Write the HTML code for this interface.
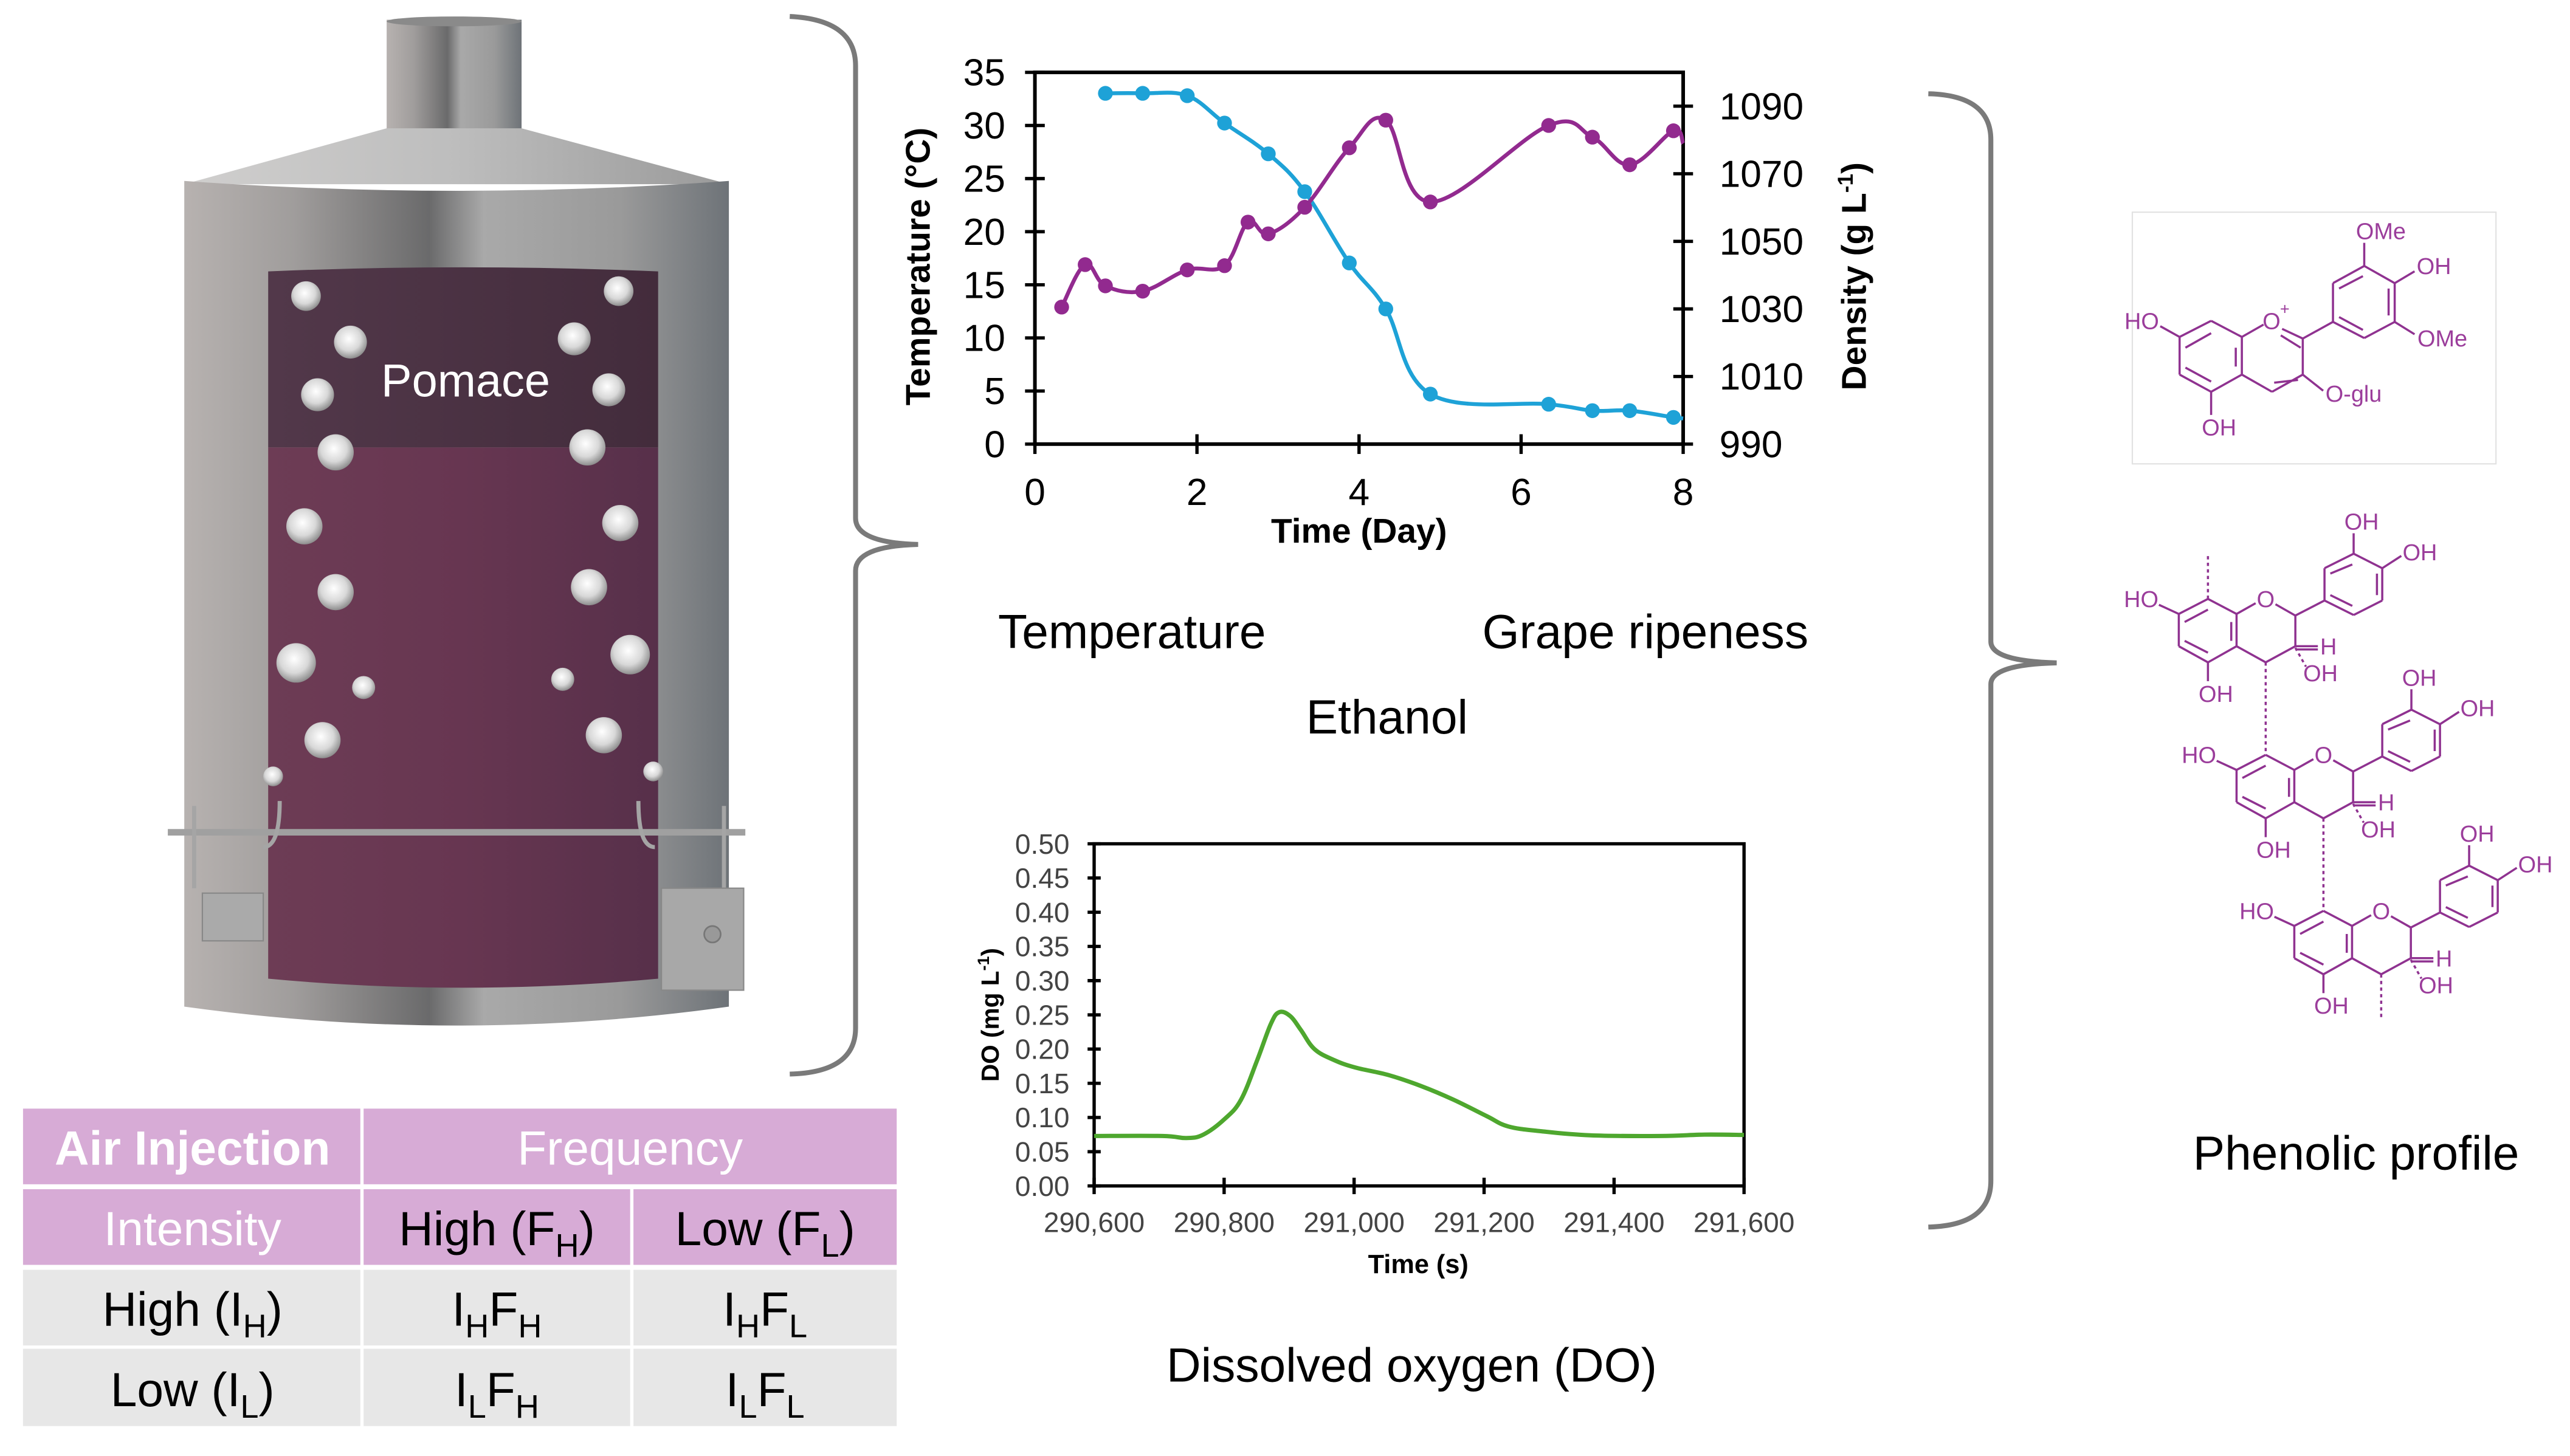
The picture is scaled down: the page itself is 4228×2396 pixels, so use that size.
<!DOCTYPE html>
<html><head><meta charset="utf-8">
<style>
html,body{margin:0;padding:0;background:#fff;width:4228px;height:2396px;overflow:hidden}
svg{display:block}
text{font-family:"Liberation Sans",sans-serif}
.nar{font-family:"Liberation Sans Narrow","Liberation Sans",sans-serif}
</style></head>
<body>
<svg id="root" xmlns="http://www.w3.org/2000/svg" width="4228" height="2396" viewBox="0 0 1562 885.2" preserveAspectRatio="none">
<defs>
<linearGradient id="metal" x1="0" x2="1" y1="0" y2="0">
<stop offset="0" stop-color="#b7b2b0"/><stop offset="0.2" stop-color="#a09d9c"/><stop offset="0.45" stop-color="#6a6a6b"/><stop offset="0.55" stop-color="#a9a9a9"/><stop offset="0.8" stop-color="#9a9a9a"/><stop offset="1" stop-color="#6e7378"/>
</linearGradient>
<linearGradient id="cone" x1="0" x2="1" y1="0" y2="0">
<stop offset="0" stop-color="#d0cfce"/><stop offset="0.5" stop-color="#bdbdbd"/><stop offset="1" stop-color="#9a9a9a"/>
</linearGradient>
<radialGradient id="bub" cx="0.45" cy="0.4" r="0.6">
<stop offset="0" stop-color="#ffffff"/><stop offset="0.6" stop-color="#d8d8d8"/><stop offset="1" stop-color="#8e8e8e"/>
</radialGradient>
<linearGradient id="winLow" x1="0" x2="1"><stop offset="0" stop-color="#6d3c55"/><stop offset="0.5" stop-color="#673651"/><stop offset="1" stop-color="#57304a"/></linearGradient>
<linearGradient id="winTop" x1="0" x2="1"><stop offset="0" stop-color="#52384a"/><stop offset="1" stop-color="#432c3c"/></linearGradient>
</defs>

<!-- Tank -->
<g>
<rect x="235" y="12" width="82" height="70" fill="url(#metal)"/>
<ellipse cx="276" cy="13" rx="41" ry="3" fill="#8a8a8a"/>
<polygon points="112,112 235,78 317,78 443,112" fill="url(#cone)"/>
<path d="M112,110 Q278,122 443,110 L443,612 Q278,635 112,612 Z" fill="url(#metal)"/>
<path d="M163,165 Q281,160 400,165 L400,272 L163,272 Z" fill="url(#winTop)"/>
<path d="M163,272 L400,272 L400,595 Q281,606 163,595 Z" fill="url(#winLow)"/>
<text x="283" y="241" font-size="28" fill="#fff" text-anchor="middle">Pomace</text>
<g id="bubbles"></g>
<line x1="102" y1="506" x2="453" y2="506" stroke="#a0a0a0" stroke-width="4"/>
<path d="M118,490 L118,540 M170,487 Q170,515 160,515 M388,487 Q388,515 398,515 M440,490 L440,540" stroke="#a5a5a5" stroke-width="2.5" fill="none"/>
<rect x="123" y="543" width="37" height="29" fill="#aaa" stroke="#888" stroke-width="0.8"/>
<rect x="402" y="540" width="50" height="62" fill="#a8a8a8" stroke="#888" stroke-width="0.8"/>
<circle cx="433" cy="568" r="5" fill="#999" stroke="#777"/>
</g>

<!-- Braces -->
<path d="M480,10 Q520,12 520,40 L520,315 Q520,330 558,331 Q520,332 520,347 L520,625 Q520,652 480,653" stroke="#7a7a7a" stroke-width="3" fill="none"/>
<path d="M1172,57 Q1210,58 1210,85 L1210,390 Q1210,402 1250,403 Q1210,404 1210,416 L1210,718 Q1210,745 1172,746" stroke="#7a7a7a" stroke-width="3" fill="none"/>

<!-- Labels -->
<text x="688" y="394" font-size="29" text-anchor="middle">Temperature</text>
<text x="1000" y="394" font-size="29" text-anchor="middle">Grape ripeness</text>
<text x="843" y="446" font-size="29" text-anchor="middle">Ethanol</text>
<text x="858" y="840" font-size="29" text-anchor="middle">Dissolved oxygen (DO)</text>
<text x="1432" y="711" font-size="29" text-anchor="middle">Phenolic profile</text>

<!-- Table -->
<g font-size="29">
<rect x="14" y="674" width="205" height="46" fill="#d7abd6"/>
<rect x="221" y="674" width="324" height="46" fill="#d7abd6"/>
<rect x="14" y="723" width="205" height="46" fill="#d7abd6"/>
<rect x="221" y="723" width="162" height="46" fill="#d7abd6"/>
<rect x="385" y="723" width="160" height="46" fill="#d7abd6"/>
<rect x="14" y="772" width="205" height="46" fill="#e7e7e7"/>
<rect x="221" y="772" width="162" height="46" fill="#e7e7e7"/>
<rect x="385" y="772" width="160" height="46" fill="#e7e7e7"/>
<rect x="14" y="820" width="205" height="47" fill="#e7e7e7"/>
<rect x="221" y="820" width="162" height="47" fill="#e7e7e7"/>
<rect x="385" y="820" width="160" height="47" fill="#e7e7e7"/>
<text x="117" y="708" text-anchor="middle" fill="#fff" font-weight="bold">Air Injection</text>
<text x="383" y="708" text-anchor="middle" fill="#fff">Frequency</text>
<text x="117" y="757" text-anchor="middle" fill="#fff">Intensity</text>
<text x="302" y="757" text-anchor="middle">High (F<tspan font-size="20" dy="7">H</tspan><tspan dy="-7">)</tspan></text>
<text x="465" y="757" text-anchor="middle">Low (F<tspan font-size="20" dy="7">L</tspan><tspan dy="-7">)</tspan></text>
<text x="117" y="806" text-anchor="middle">High (I<tspan font-size="20" dy="7">H</tspan><tspan dy="-7">)</tspan></text>
<text x="302" y="806" text-anchor="middle">I<tspan font-size="20" dy="7">H</tspan><tspan dy="-7">F</tspan><tspan font-size="20" dy="7">H</tspan></text>
<text x="465" y="806" text-anchor="middle">I<tspan font-size="20" dy="7">H</tspan><tspan dy="-7">F</tspan><tspan font-size="20" dy="7">L</tspan></text>
<text x="117" y="855" text-anchor="middle">Low (I<tspan font-size="20" dy="7">L</tspan><tspan dy="-7">)</tspan></text>
<text x="302" y="855" text-anchor="middle">I<tspan font-size="20" dy="7">L</tspan><tspan dy="-7">F</tspan><tspan font-size="20" dy="7">H</tspan></text>
<text x="465" y="855" text-anchor="middle">I<tspan font-size="20" dy="7">L</tspan><tspan dy="-7">F</tspan><tspan font-size="20" dy="7">L</tspan></text>
</g>

<g id="topChart"></g>
<g id="doChart"></g>
<rect x="1296" y="129" width="221" height="153" fill="none" stroke="#e2e2e2" stroke-width="0.8"/>
<g id="mol"></g>
</svg>

<script>
// ---- Top chart data ----
const tempDays = [0.33,0.62,0.87,1.33,1.88,2.34,2.63,2.88,3.33,3.88,4.33,4.88,6.34,6.88,7.34,7.88,8.0];
const tempValues = [12.9,16.9,14.9,14.4,16.4,16.8,20.9,19.8,22.3,27.9,30.5,22.8,30.0,28.9,26.3,29.5,28.3];
const densDays = [0.87,1.33,1.88,2.34,2.88,3.33,3.88,4.33,4.88,6.34,6.88,7.34,7.88,8.0];
const densValues = [1093.8,1093.8,1093.1,1085.0,1075.9,1064.7,1043.6,1030.0,1004.8,1001.8,999.9,999.9,997.9,997.6];
const dayTicks = [0,2,4,6,8];
const tempTicks = [0,5,10,15,20,25,30,35];
const densTicks = [990,1010,1030,1050,1070,1090];
// ---- DO chart data ----
const doTimes = [290600,290705,290742,290768,290801,290826,290851,290872,290885,290902,290918,290939,290969,291002,291053,291103,291153,291204,291237,291287,291363,291472,291539,291600];
const doValues = [0.073,0.073,0.070,0.075,0.098,0.126,0.184,0.237,0.254,0.248,0.228,0.200,0.184,0.173,0.162,0.146,0.126,0.102,0.087,0.080,0.074,0.073,0.075,0.0745];
const doTimeTicks = ['290,600','290,800','291,000','291,200','291,400','291,600'];
const doValueTicks = ['0.00','0.05','0.10','0.15','0.20','0.25','0.30','0.35','0.40','0.45','0.50'];

const NS='http://www.w3.org/2000/svg';
function mk(parent,tag,attrs,txt){const e=document.createElementNS(NS,tag);for(const k in attrs)e.setAttribute(k,attrs[k]);if(txt!==undefined)e.textContent=txt;parent.appendChild(e);return e;}
function smooth(pts){let d='M'+pts[0][0]+','+pts[0][1];for(let i=0;i<pts.length-1;i++){const p0=pts[i-1]||pts[i],p1=pts[i],p2=pts[i+1],p3=pts[i+2]||p2;const t=0.18;d+=' C'+(p1[0]+(p2[0]-p0[0])*t)+','+(p1[1]+(p2[1]-p0[1])*t)+' '+(p2[0]-(p3[0]-p1[0])*t)+','+(p2[1]-(p3[1]-p1[1])*t)+' '+p2[0]+','+p2[1];}return d;}

// bubbles
const bubbleSpots=[[186,180,9],[213,208,10],[193,240,10],[204,275,11],[185,320,11],[204,360,11],[180,403,12],[221,418,7],[196,450,11],[166,472,6],[376,177,9],[349,206,10],[370,237,10],[357,272,11],[377,318,11],[358,357,11],[383,398,12],[342,413,7],[367,447,11],[397,469,6]];
const bg=document.getElementById('bubbles');
bubbleSpots.forEach(b=>{const c=mk(bg,'circle',{cx:b[0],cy:b[1],r:b[2],fill:'url(#bub)'});

});

// Top chart
(function(){
const g=document.getElementById('topChart');
const L=629,R=1023,T=44,B=270;
const xS=d=>L+(d-0)/(8-0)*(R-L);
const yT=v=>B-(v/35)*(B-T);
const yD=v=>B-((v-990)/(1100-990))*(B-T);
mk(g,'rect',{x:L,y:T,width:R-L,height:B-T,fill:'none',stroke:'#000','stroke-width':2.2});
dayTicks.forEach(d=>{const x=xS(d);const t=mk(g,'line',{x1:x,y1:B-6,x2:x,y2:B+6,stroke:'#000','stroke-width':2});
const l=mk(g,'text',{x:x,y:B+37,'font-size':23,'text-anchor':'middle',class:'nar'},String(d));});
tempTicks.forEach(v=>{const y=yT(v);mk(g,'line',{x1:L-6,y1:y,x2:L+6,y2:y,stroke:'#000','stroke-width':2});
const l=mk(g,'text',{x:L-18,y:y+8,'font-size':23,'text-anchor':'end',class:'nar'},String(v));});
densTicks.forEach(v=>{const y=yD(v);mk(g,'line',{x1:R-6,y1:y,x2:R+6,y2:y,stroke:'#000','stroke-width':2});
const l=mk(g,'text',{x:R+22,y:y+8,'font-size':23,'text-anchor':'start',class:'nar'},String(v));});
const xt=mk(g,'text',{x:826,y:330,'font-size':21,'font-weight':'bold','text-anchor':'middle'},'Time (Day)');
const yt=mk(g,'text',{x:0,y:0,'font-size':21,'font-weight':'bold','text-anchor':'middle',transform:'translate(565,162) rotate(-90)'},'Temperature (°C)');
const rt=mk(g,'text',{x:0,y:0,'font-size':21,'font-weight':'bold','text-anchor':'middle',transform:'translate(1134,168) rotate(-90)'});
rt.innerHTML='Density (g L<tspan font-size="13" dy="-8">-1</tspan><tspan dy="8">)</tspan>';
// density series
const dp=densDays.map((d,i)=>[xS(d),yD(densValues[i])]);
const dl=mk(g,'path',{d:smooth(dp),fill:'none',stroke:'#1ea2d7','stroke-width':2.4});
dp.slice(0,densDays.length-1).forEach(p=>{const c=mk(g,'circle',{cx:p[0],cy:p[1],r:4.5,fill:'#1ea2d7'});});
const tp=tempDays.map((d,i)=>[xS(d),yT(tempValues[i])]);
const tl=mk(g,'path',{d:smooth(tp),fill:'none',stroke:'#922a8f','stroke-width':2.4});
tp.slice(0,tempDays.length-1).forEach(p=>{const c=mk(g,'circle',{cx:p[0],cy:p[1],r:4.5,fill:'#922a8f'});});
})();

// DO chart
(function(){
const g=document.getElementById('doChart');
const L=665,R=1060,T=513,B=721;
const xS=t=>L+(t-290600)/1000*(R-L);
const yS=v=>B-v/0.5*(B-T);
mk(g,'rect',{x:L,y:T,width:R-L,height:B-T,fill:'none',stroke:'#000','stroke-width':2});
doTimeTicks.forEach((lab,i)=>{const x=L+i*(R-L)/(doTimeTicks.length-1);mk(g,'line',{x1:x,y1:B-5,x2:x,y2:B+5,stroke:'#000','stroke-width':2});
const l=mk(g,'text',{x:x,y:B+28,'font-size':17,'text-anchor':'middle',fill:'#444',class:'nar'},lab);});
doValueTicks.forEach((lab,i)=>{const y=yS(parseFloat(lab));mk(g,'line',{x1:L-4,y1:y,x2:L+4,y2:y,stroke:'#000','stroke-width':2});
const l=mk(g,'text',{x:L-15,y:y+6,'font-size':17,'text-anchor':'end',fill:'#444',class:'nar'},lab);});
const xt=mk(g,'text',{x:862,y:774,'font-size':16,'font-weight':'bold','text-anchor':'middle'},'Time (s)');
const yt=mk(g,'text',{x:0,y:0,'font-size':15,'font-weight':'bold','text-anchor':'middle',transform:'translate(607,617) rotate(-90)'});
yt.innerHTML='DO (mg L<tspan font-size="10" dy="-6">-1</tspan><tspan dy="6">)</tspan>';
const pts=doTimes.map((t,i)=>[xS(t),yS(doValues[i])]);
const l=mk(g,'path',{d:smooth(pts),fill:'none',stroke:'#4ea72e','stroke-width':2.6});
})();

// Molecules (coords in zoom space)
(function(){
const g=document.getElementById('mol');
const P=(x,y)=>[1285.6+x*0.161,118.2+y*0.327];
const col='#8f3290';
function bond(a,b,c,d,dash){const p=P(a,b),q=P(c,d);mk(g,'line',{x1:p[0],y1:p[1],x2:q[0],y2:q[1],stroke:col,'stroke-width':1.3,'stroke-dasharray':dash?'2,2':'none'});}
function ring(pts){for(let i=0;i<pts.length;i++){const a=pts[i],b=pts[(i+1)%pts.length];bond(a[0],a[1],b[0],b[1]);}}
function lab(x,y,s,sz){const p=P(x,y);const t=mk(g,'text',{x:p[0],y:p[1]+5,'font-size':sz||14,'text-anchor':'middle',fill:'#9b3d9b'},s);}
// anthocyanin
ring([[243,265],[362,235],[478,265],[478,335],[362,367],[243,335]]);
bond(265,285,362,258);bond(455,285,455,320);bond(265,322,362,348);
bond(478,265,560,242);bond(630,250,708,268);bond(625,262,700,285);bond(708,268,708,335);bond(708,335,592,367);bond(690,345,600,350);bond(592,367,478,335);
bond(170,245,243,265);bond(362,367,362,410);
bond(708,268,822,237);
ring([[822,165],[940,133],[1055,165],[1055,237],[940,267],[822,237]]);
bond(845,175,935,152);bond(1032,175,1032,225);bond(845,228,935,252);
bond(940,133,940,90);bond(1055,165,1130,143);bond(1055,237,1130,260);bond(708,335,785,365);
lab(1003,68,'OMe');lab(1203,133,'OH');lab(1235,267,'OMe');lab(900,370,'O-glu');lab(100,235,'HO');lab(392,433,'OH');lab(590,235,'O');lab(640,208,'+',10);
// procyanidin units
for(let k=0;k<3;k++){const dx=218*k,dy=290*k;
const Rg=(arr)=>ring(arr.map(p=>[p[0]+dx,p[1]+dy]));
const Bd=(a,b,c,d,ds)=>bond(a+dx,b+dy,c+dx,d+dy,ds);
const Lb=(x,y,s)=>lab(x+dx,y+dy,s);
Rg([[240,780],[350,752],[458,780],[458,840],[350,870],[240,840]]);
Bd(262,795,350,772);Bd(438,795,438,830);Bd(262,830,350,852);
Bd(458,780,530,760);Bd(605,762,680,783);Bd(680,783,680,840);Bd(680,840,568,870);Bd(568,870,458,840);
Bd(680,783,790,755);
Rg([[790,695],[900,668],[1008,695],[1008,755],[900,782],[790,755]]);
Bd(812,705,895,688);Bd(988,705,988,745);Bd(812,745,895,765);
Bd(900,668,900,630);Bd(1008,695,1080,672);Bd(165,763,240,780);Bd(350,870,350,905);
Bd(680,840,765,840);Bd(680,846,765,846);Bd(680,843,720,878,true);
if(k===0)Bd(350,752,350,670,true);
if(k<2)Bd(568,870,568,1040,true);else Bd(568,870,568,950,true);
Lb(930,608,'OH');Lb(1150,665,'OH');Lb(98,752,'HO');Lb(380,928,'OH');Lb(568,752,'O');Lb(805,840,'H');Lb(775,890,'OH');}
})();
</script>
</body></html>
